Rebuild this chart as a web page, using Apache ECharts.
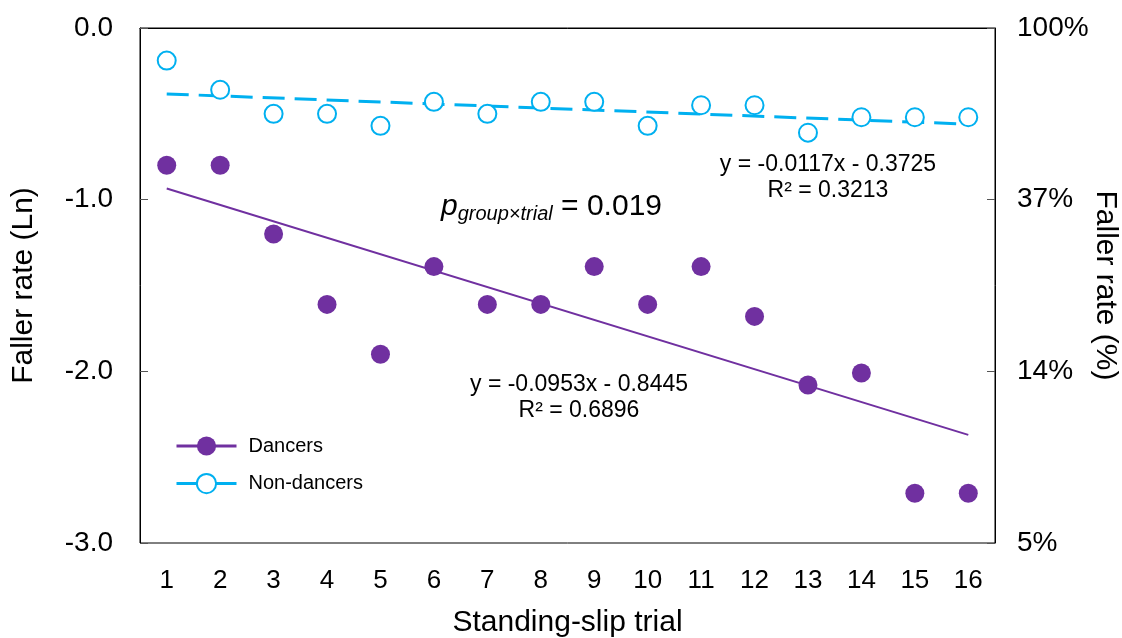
<!DOCTYPE html>
<html><head><meta charset="utf-8">
<script src="https://cdn.jsdelivr.net/npm/echarts@6/dist/echarts.min.js"></script>
<style>html,body{margin:0;padding:0;background:#fff}#c{width:1122px;height:638px}</style>
</head><body><div id="c"></div>
<script>
const trials = ['1','2','3','4','5','6','7','8','9','10','11','12','13','14','15','16'];
const dancers = [-0.80,-0.80,-1.20,-1.61,-1.90,-1.39,-1.61,-1.61,-1.39,-1.61,-1.39,-1.68,-2.08,-2.01,-2.71,-2.71];
const nonDancers = [-0.19,-0.36,-0.50,-0.50,-0.57,-0.43,-0.50,-0.43,-0.43,-0.57,-0.45,-0.45,-0.61,-0.52,-0.52,-0.52];
// trend line endpoints (trial 1 and trial 16)
const dancersTrend = [-0.935,null,null,null,null,null,null,null,null,null,null,null,null,null,null,-2.37];
const nonDancersTrend = [-0.384,null,null,null,null,null,null,null,null,null,null,null,null,null,null,-0.560];
const leftTicks = [0,-1,-2,-3];
const leftTickLabels = ['0.0','-1.0','-2.0','-3.0'];
const rightTickLabels = ['100%','37%','14%','5%'];

const PURPLE = '#7030A0', CYAN = '#00B0F0';
const FONT = 'Liberation Sans, Arial, sans-serif';
const chart = echarts.init(document.getElementById('c'));
chart.setOption({
  animation: false,
  backgroundColor: '#fff',
  grid: {left: 140, right: 127, top: 28, bottom: 95, containLabel: false, outerBoundsMode: 'none',
         show: true, borderColor: '#000', borderWidth: 1, backgroundColor: 'transparent'},
  legend: {
    orient: 'vertical', left: 170, top: 431, itemWidth: 60, itemHeight: 24, itemGap: 17,
    textStyle: {fontFamily: FONT, fontSize: 20, color: '#000', padding: [0,0,0,7]},
    data: [
      {name: 'Dancers', lineStyle: {width: 3, color: PURPLE, opacity: 1}},
      {name: 'Non-dancers', lineStyle: {width: 3, color: CYAN, opacity: 1}}
    ]
  },
  xAxis: {
    type: 'category', data: trials, boundaryGap: true,
    axisLine: {show: true, lineStyle: {color: '#000', width: 1}},
    axisTick: {show: false},
    axisLabel: {fontFamily: FONT, fontSize: 26, color: '#000', margin: 25},
    name: 'Standing-slip trial', nameLocation: 'middle', nameGap: 65, nameMoveOverlap: false,
    nameTextStyle: {fontFamily: FONT, fontSize: 30, color: '#000'}
  },
  yAxis: [{
    type: 'value', min: -3, max: 0, interval: 1, position: 'left',
    axisLine: {show: true, lineStyle: {color: '#000', width: 1}},
    axisTick: {show: true, inside: true, length: 8, lineStyle: {color: '#555'}},
    splitLine: {show: false},
    axisLabel: {fontFamily: FONT, fontSize: 28, color: '#000', margin: 27,
      formatter: v => leftTickLabels[leftTicks.indexOf(Math.round(v))]},
    name: 'Faller rate (Ln)', nameLocation: 'middle', nameGap: 101, nameMoveOverlap: false,
    nameTextStyle: {fontFamily: FONT, fontSize: 30, color: '#000'}
  }, {
    type: 'value', min: -3, max: 0, interval: 1, position: 'right',
    axisLine: {show: true, lineStyle: {color: '#000', width: 1}},
    axisTick: {show: true, inside: true, length: 8, lineStyle: {color: '#555'}},
    splitLine: {show: false},
    axisLabel: {fontFamily: FONT, fontSize: 28, color: '#000', margin: 22,
      formatter: v => rightTickLabels[leftTicks.indexOf(Math.round(v))]},
    name: 'Faller rate (%)', nameLocation: 'middle', nameGap: 95, nameRotate: -90, nameMoveOverlap: false,
    nameTextStyle: {fontFamily: FONT, fontSize: 30, color: '#000'}
  }],
  series: [
    {name: 'Dancers', type: 'line', data: dancers, symbol: 'circle', symbolSize: 19,
     lineStyle: {width: 0, opacity: 0}, itemStyle: {color: PURPLE}, z: 3},
    {name: 'Non-dancers', type: 'line', data: nonDancers, symbol: 'circle', symbolSize: 18,
     lineStyle: {width: 0, opacity: 0}, itemStyle: {color: '#fff', borderColor: CYAN, borderWidth: 2}, z: 3},
    {name: 'DancersTrend', type: 'line', data: dancersTrend, connectNulls: true, showSymbol: false, symbol: 'none',
     lineStyle: {color: PURPLE, width: 2}, z: 2},
    {name: 'NonDancersTrend', type: 'line', data: nonDancersTrend, connectNulls: true, showSymbol: false, symbol: 'none',
     lineStyle: {color: CYAN, width: 3, type: [22, 10]}, z: 2}
  ],
  graphic: [
    {type: 'text', x: 828, y: 178, style: {text: 'y = -0.0117x - 0.3725\nR² = 0.3213', fontFamily: FONT, fontSize: 23, fill: '#000', align: 'center', verticalAlign: 'middle', lineHeight: 26}},
    {type: 'text', x: 579, y: 398, style: {text: 'y = -0.0953x - 0.8445\nR² = 0.6896', fontFamily: FONT, fontSize: 23, fill: '#000', align: 'center', verticalAlign: 'middle', lineHeight: 26}},
    {type: 'text', x: 441, y: 207, style: {
      text: '{p|p}{s|group×trial}{n| = 0.019}', verticalAlign: 'middle',
      rich: {
        p: {fontFamily: FONT, fontSize: 30, fontStyle: 'italic', fill: '#000'},
        s: {fontFamily: FONT, fontSize: 20, fontStyle: 'italic', fill: '#000', verticalAlign: 'bottom', padding: [14,0,0,0]},
        n: {fontFamily: FONT, fontSize: 30, fill: '#000'}
      }}}
  ]
});
</script></body></html>
